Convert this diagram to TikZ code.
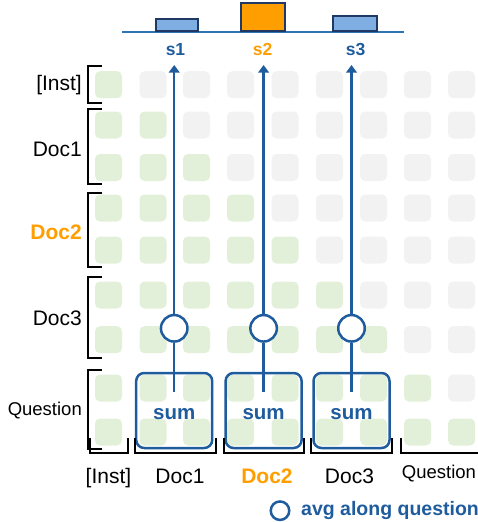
\documentclass[tikz,border=0pt]{standalone}
\usepackage{fontspec}
\setmainfont{Liberation Sans}
\usetikzlibrary{arrows.meta}
\definecolor{cgreen}{HTML}{E2F0D9}
\definecolor{cgray}{HTML}{F2F2F2}
\definecolor{cblue}{HTML}{1F5C9E}
\definecolor{corange}{HTML}{FF9E00}
\definecolor{cbar}{HTML}{7FAEE3}
\definecolor{cnavy}{HTML}{1F3864}
\definecolor{cline}{HTML}{2E75B6}
\begin{document}
\begin{tikzpicture}[x=1pt,y=-1pt,
  cell/.style={rounded corners=5pt, minimum width=27pt, minimum height=27pt, inner sep=0pt, draw=none},
  sumbox/.style={draw=cblue, line width=2.5pt, rounded corners=8pt, minimum width=76pt, minimum height=75pt, inner sep=0pt},
  sumtext/.style={text=cblue, font=\bfseries\fontsize{20.5}{22}\selectfont, inner sep=0pt, anchor=base},
  avgc/.style={circle, draw=cblue, fill=white, line width=2.5pt, minimum size=26.5pt, inner sep=0pt},
  vline/.style={draw=cblue, line width=2.3pt},
  bar/.style={draw=cnavy, line width=2pt, inner sep=0pt, anchor=south},
  slab/.style={font=\bfseries\fontsize{17.5}{19}\selectfont, inner sep=0pt, anchor=base},
  brk/.style={draw=black, line width=1.8pt},
  lab/.style={font=\fontsize{21}{24}\selectfont, inner sep=0pt},
  qlab/.style={font=\fontsize{18.5}{21}\selectfont, inner sep=0pt},
]
\useasboundingbox (0,0) rectangle (478,522);

% attention grid
\foreach \cx [count=\i] in {108.5,153,196.5,240.5,285,329.5,373.5,417.5,461.5}{
  \foreach \cy [count=\j] in {84.7,125,167.5,208,250,295,339.7,388,432}{
    \ifnum\i>\j \def\cc{cgray}\else\def\cc{cgreen}\fi
    \node[cell, fill=\cc] (c-\i-\j) at (\cx,\cy) {};
  }
}

% top bar chart
\coordinate (bl) at (122,32);
\coordinate (br) at (404,32);
\draw[draw=cline, line width=1.5pt] (bl) -- (br);
\node[bar, fill=cbar, minimum width=42pt, minimum height=11.7pt] (bar1) at (177.2,32) {};
\node[bar, fill=corange, minimum width=43.5pt, minimum height=27.7pt] (bar2) at (262.8,32) {};
\node[bar, fill=cbar, minimum width=44pt, minimum height=15pt] (bar3) at (355.3,32) {};
\node[slab, text=cblue] (s1) at (175.5,55) {s1};
\node[slab, text=corange] (s2) at (262.7,55) {s2};
\node[slab, text=cblue] (s3) at (355.5,55) {s3};

% sum boxes, circles, arrows
\foreach \bx/\k in {174.2/1,263.6/2,351.5/3}{
  \node[sumbox] (b\k) at (\bx,410.5) {};
  \node[sumtext] (t\k) at (\bx,419.3) {sum};
  \coordinate (l\k) at (\bx,391.7);
  \coordinate (a\k) at (\bx,65);
  \node[avgc] (o\k) at (\bx,328.3) {};
  \draw[vline] (l\k) -- (o\k.south);
  \draw[vline, -{Triangle[width=10.5pt,length=7.5pt]}] (o\k.north) -- (a\k);
}

% left brackets
\draw[brk] (102,66) -- (87.7,66) -- (87.7,103.3) -- (102,103.3);
\draw[brk] (102,108.7) -- (87.7,108.7) -- (87.7,184.3) -- (102,184.3);
\draw[brk] (102,192.7) -- (87.7,192.7) -- (87.7,267.3) -- (102,267.3);
\draw[brk] (102,276.7) -- (87.7,276.7) -- (87.7,358.3) -- (102,358.3);
\draw[brk] (102,370) -- (87.7,370) -- (87.7,449.3) -- (101.7,449.3);

% bottom brackets
\draw[brk] (90,438.3) -- (90,453.3) -- (127.7,453.3) -- (127.7,438.3);
\draw[brk] (135,438.3) -- (135,453.3) -- (215.7,453.3) -- (215.7,438.3);
\draw[brk] (224,438.3) -- (224,453.3) -- (304,453.3) -- (304,438.3);
\draw[brk] (311,438.3) -- (311,453.3) -- (392.3,453.3) -- (392.3,438.3);
\draw[brk] (400.7,438.3) -- (400.7,453.3) -- (478,453.3);

% left labels
\node[lab, anchor=base east] (rinst) at (82,90.7) {[Inst]};
\node[lab, anchor=base east] (rdoc1) at (82,156.7) {Doc1};
\node[lab, anchor=base east, text=corange, font=\bfseries\fontsize{21}{24}\selectfont] (rdoc2) at (82,239) {Doc2};
\node[lab, anchor=base east] (rdoc3) at (82,325.7) {Doc3};
\node[qlab, anchor=base east] (rq) at (82,415) {Question};

% bottom labels
\node[lab, anchor=base] (cinst) at (108.5,483.3) {[Inst]};
\node[lab, anchor=base] (cdoc1) at (180,483.3) {Doc1};
\node[lab, anchor=base, text=corange, font=\bfseries\fontsize{21}{24}\selectfont] (cdoc2) at (267,483.3) {Doc2};
\node[lab, anchor=base] (cdoc3) at (349.5,483.3) {Doc3};
\node[qlab, anchor=base] (cq) at (439,478.3) {Question};

% legend
\node[avgc, minimum size=18.5pt] (lc) at (280,510.7) {};
\node[font=\bfseries\fontsize{19.5}{22}\selectfont, text=cblue, inner sep=0pt, anchor=base west] (lt) at (301,515.7) {avg along question};
\end{tikzpicture}
\end{document}
